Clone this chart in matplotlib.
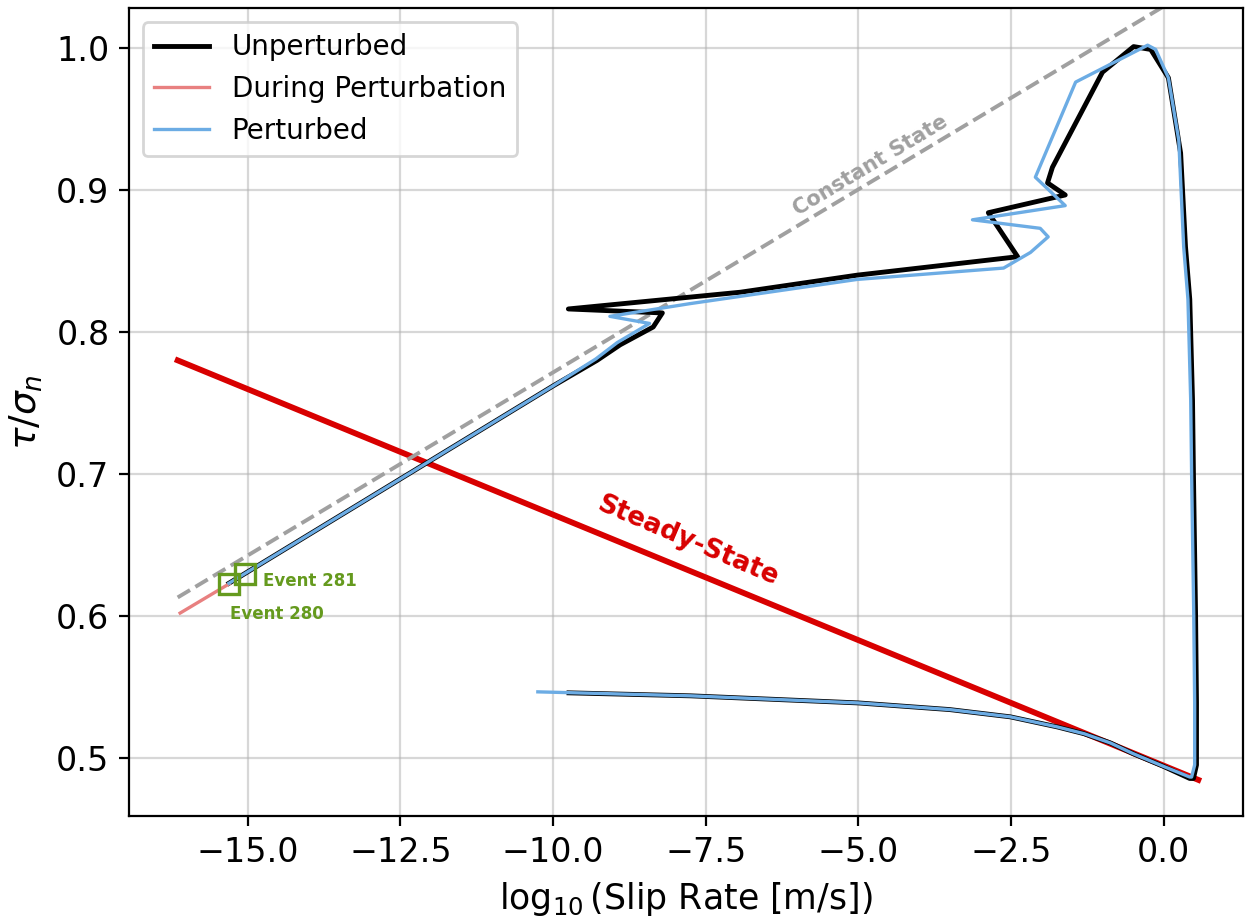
import numpy as np
import matplotlib
matplotlib.use('Agg')
import matplotlib.pyplot as plt

# Unperturbed cycle: log10(V) and tau/sigma_n
unpert_logv = [-15.31, -12.10, -10.00, -9.28, -8.90, -8.36, -8.21, -9.75, -6.93, -5.02,
               -2.39, -2.87, -1.61, -1.90, -1.82, -1.00, -0.49, -0.21, 0.08, 0.28,
               0.36, 0.43, 0.475, 0.49, 0.525, 0.54, 0.54, 0.49, 0.43,
               0.00, -0.50, -0.87, -1.30, -1.74, -2.51, -3.50, -5.00, -7.75, -9.74]
unpert_tau = [0.623, 0.707, 0.762, 0.780, 0.791, 0.8035, 0.8134, 0.8162, 0.828, 0.840,
              0.853, 0.884, 0.8965, 0.905, 0.916, 0.983, 1.001, 0.999, 0.979, 0.926,
              0.860, 0.823, 0.752, 0.700, 0.601, 0.539, 0.495, 0.4855, 0.4855,
              0.494, 0.503, 0.5105, 0.517, 0.5218, 0.5289, 0.534, 0.5387, 0.5437, 0.5458]

# Perturbed cycle
pert_logv = [-15.31, -12.10, -10.00, -9.30, -8.95, -8.42, -9.07, -7.75, -5.02, -2.62,
             -2.18, -1.89, -2.02, -3.13, -1.61, -2.10, -1.44, -0.26, -0.13, 0.08,
             0.25, 0.33, 0.40, 0.445, 0.46, 0.495, 0.51, 0.51, 0.46, 0.43,
             0.00, -0.50, -0.87, -1.30, -1.74, -2.51, -3.50, -5.00, -7.75, -10.25]
pert_tau = [0.623, 0.707, 0.762, 0.781, 0.7925, 0.806, 0.811, 0.820, 0.837, 0.845,
            0.856, 0.867, 0.873, 0.879, 0.889, 0.909, 0.976, 1.002, 0.999, 0.979,
            0.935, 0.860, 0.823, 0.752, 0.700, 0.601, 0.539, 0.495, 0.4865, 0.4865,
            0.494, 0.503, 0.5105, 0.517, 0.5218, 0.5289, 0.534, 0.5387, 0.5437, 0.5465]

# During perturbation segment
during_logv = [-16.11, -15.31]
during_tau = [0.602, 0.6225]

# Reference lines
steady_logv = [-16.15, 0.57]
steady_tau = [0.780, 0.4845]
const_logv = [-16.15, 0.30]
const_tau = [0.613, 1.037]

# Event markers
event_labels = ['Event 280', 'Event 281']
event_logv = [-15.31, -15.05]
event_tau = [0.6225, 0.6296]

green = '#659a1e'

fig, ax = plt.subplots(figsize=(1251 / 200, 919 / 200), dpi=200)
fig.subplots_adjust(left=0.103, right=0.994, bottom=0.112, top=0.991)

ax.plot(steady_logv, steady_tau, color='#d80000', lw=2.1, zorder=2)
ax.plot(const_logv, const_tau, color='#a0a0a0', lw=1.4, ls='--', zorder=2)

ax.plot(unpert_logv, unpert_tau, color='black', lw=1.75, label='Unperturbed', zorder=3)
ax.plot(during_logv, during_tau, color='#e88080', lw=1.2, label='During Perturbation', zorder=4)
ax.plot(pert_logv, pert_tau, color='#6cace4', lw=1.2, label='Perturbed', zorder=4)

ax.plot(event_logv, event_tau, ls='none', marker='s', ms=7.5, mfc='none', mec=green, mew=1.2, zorder=5)
ax.text(-15.3, 0.601, event_labels[0], color=green, fontsize=6, fontweight='bold',
        ha='left', va='center')
ax.text(-14.75, 0.6246, event_labels[1], color=green, fontsize=6, fontweight='bold',
        ha='left', va='center')

ax.text(-4.80, 0.9176, 'Constant State', color='#a0a0a0', fontsize=7.5, fontweight='bold',
        rotation=31, ha='center', va='center')
ax.text(-7.79, 0.6528, 'Steady-State', color='#d80000', fontsize=9.5, fontweight='bold',
        rotation=-23, ha='center', va='center')

ax.set_xlim(-16.95, 1.31)
ax.set_ylim(0.459, 1.028)
ax.grid(True, alpha=0.5)
ax.set_axisbelow(True)
ax.tick_params(labelsize=12)
ax.set_xlabel(r'$\log_{10}$(Slip Rate [m/s])', fontsize=12.5)
ax.set_ylabel(r'$\tau/\sigma_n$', fontsize=13.5)
ax.legend(loc='upper left', fontsize=10)

plt.savefig('out.png', dpi=200)
